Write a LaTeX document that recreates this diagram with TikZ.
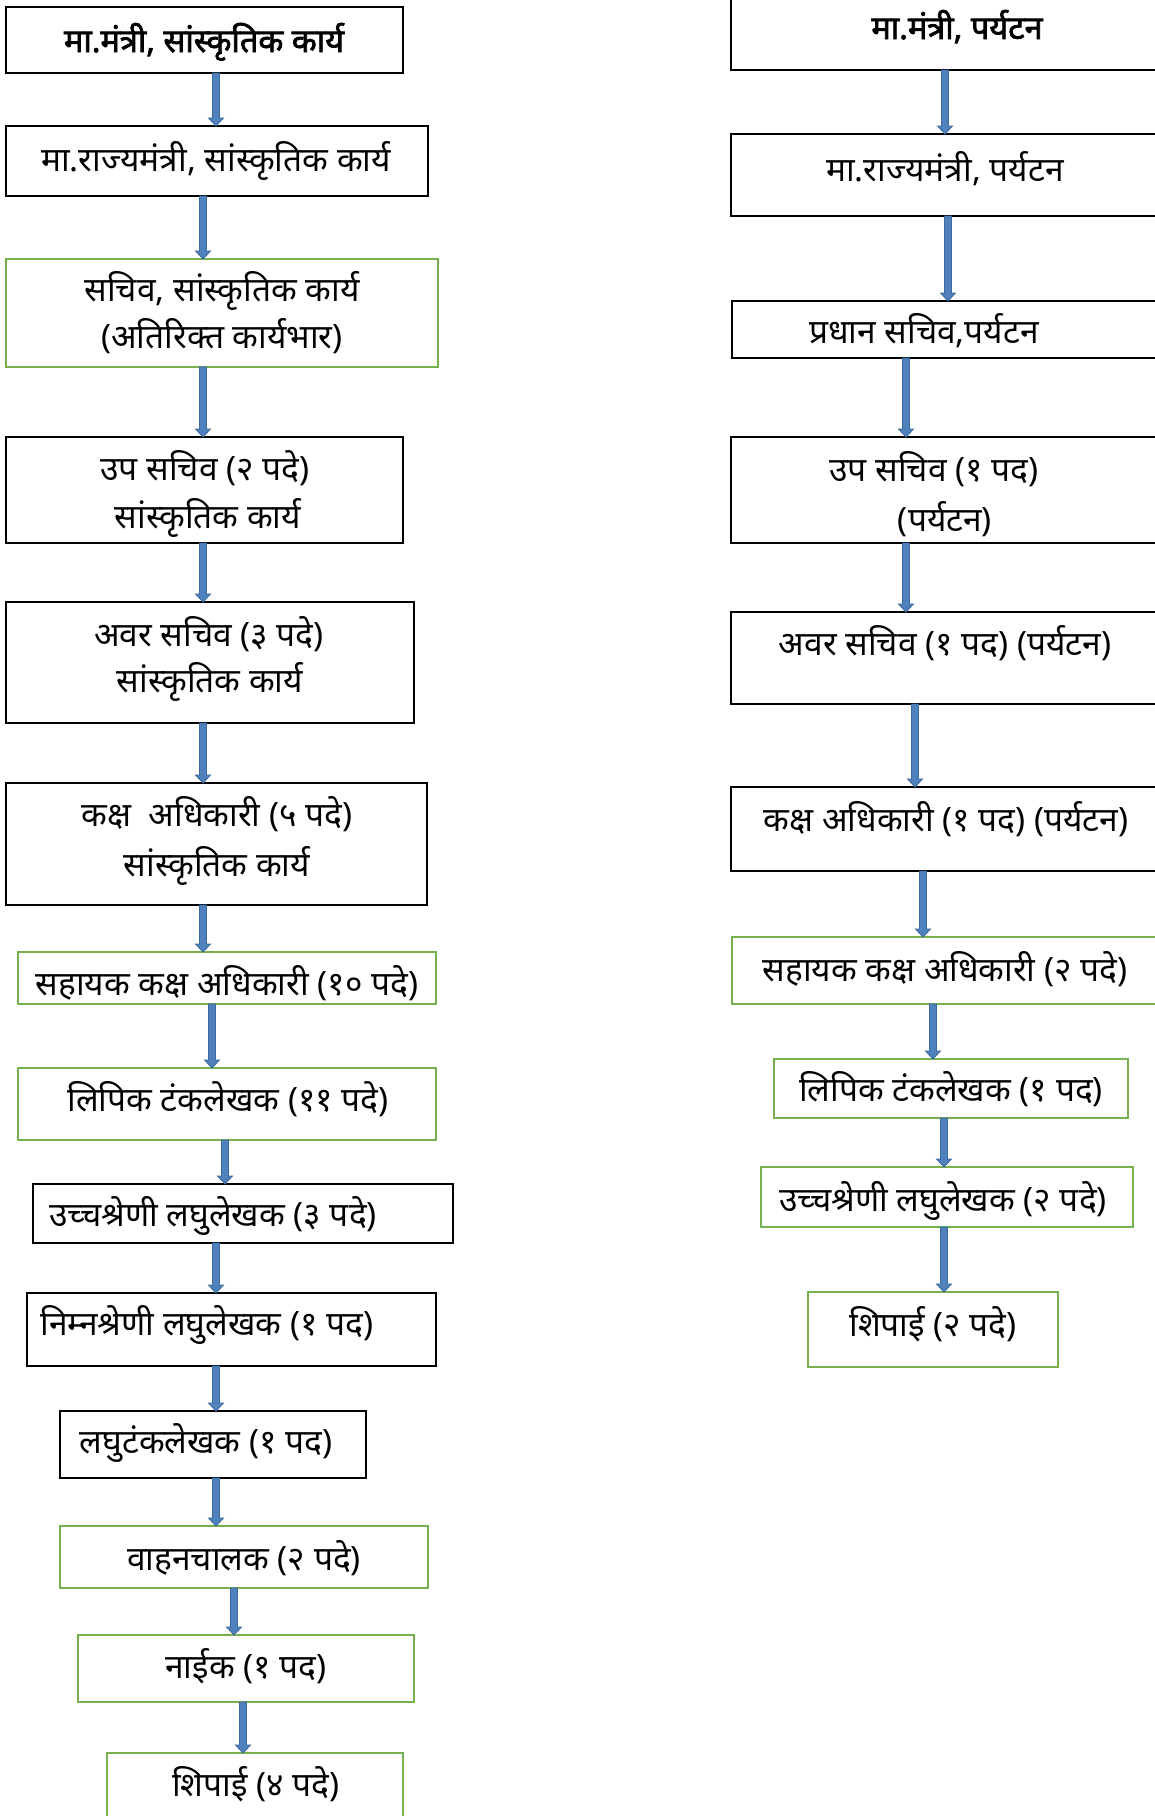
\documentclass[tikz,border=0pt]{standalone}
\usepackage{fontspec}
\newfontfamily\deva[Script=Devanagari]{Noto Sans}
\newfontfamily\devab[Script=Devanagari,FakeBold=2.2]{Noto Sans}
\usetikzlibrary{calc}
\definecolor{boxgreen}{HTML}{77B04F}
\definecolor{arrfill}{HTML}{4F81BD}
\definecolor{arrline}{HTML}{3C6A9C}
\newcommand\blockarr[2]{%
  \draw[arrsty] let \p1=(#1), \p2=(#2) in
    (\x1-3.5pt,\y1) -- (\x1+3.5pt,\y1) -- (\x1+3.5pt,\y2+8pt) -- (\x1+7.5pt,\y2+8pt)
    -- (\x1,\y2) -- (\x1-7.5pt,\y2+8pt) -- (\x1-3.5pt,\y2+8pt) -- cycle;}
\newcommand\boxat[6]{%
  \node[#1, minimum width={(#5-#3)*1pt}, minimum height={(#6-#4)*1pt}]
    (#2) at ({(#3+#5)/2},{(#4+#6)/2}) {};}
\begin{document}
\begin{tikzpicture}[x=1pt,y=-1pt,
  bbox/.style={draw=black, line width=2pt, inner sep=0pt, outer sep=0pt},
  gbox/.style={draw=boxgreen, line width=2.8pt, inner sep=0pt, outer sep=0pt},
  txt/.style={anchor=base, inner sep=0pt, yshift=-3pt, font=\deva\fontsize{33.5}{38}\selectfont},
  btxt/.style={anchor=base, inner sep=0pt, yshift=-2pt, font=\devab\fontsize{32.5}{38}\selectfont},
  arrsty/.style={fill=arrfill, draw=arrline, line width=0.8pt, line join=miter}]
\useasboundingbox (0,0) rectangle (1155,1816);
\clip (0,0) rectangle (1155,1816);
% left column boxes
\boxat{bbox}{L1}{6}{7}{403}{73}
\boxat{bbox}{L2}{6}{126}{428}{196}
\boxat{gbox}{L3}{6}{259}{438}{367}
\boxat{bbox}{L4}{6}{437}{403}{543}
\boxat{bbox}{L5}{6}{602}{414}{723}
\boxat{bbox}{L6}{6}{783}{427}{905}
\boxat{gbox}{L7}{18}{952}{436}{1004}
\boxat{gbox}{L8}{18}{1068}{436}{1140}
\boxat{bbox}{L9}{33}{1184}{453}{1243}
\boxat{bbox}{L10}{27}{1293}{436}{1366}
\boxat{bbox}{L11}{60}{1411}{366}{1478}
\boxat{gbox}{L12}{60}{1526}{428}{1588}
\boxat{gbox}{L13}{78}{1635}{414}{1702}
\boxat{gbox}{L14}{107}{1753}{403}{1830}
% right column boxes
\boxat{bbox}{R1}{731}{-10}{1165}{70}
\boxat{bbox}{R2}{731}{134}{1165}{216}
\boxat{bbox}{R3}{732}{301}{1165}{358}
\boxat{bbox}{R4}{731}{437}{1165}{543}
\boxat{bbox}{R5}{731}{612}{1165}{704}
\boxat{bbox}{R6}{731}{787}{1165}{871}
\boxat{gbox}{R7}{732}{937}{1165}{1004}
\boxat{gbox}{R8}{774}{1059}{1128}{1118}
\boxat{gbox}{R9}{761}{1167}{1133}{1227}
\boxat{gbox}{R10}{808}{1292}{1058}{1367}
% texts left
\node[btxt] (tL1) at (204,50) {मा.मंत्री, सांस्कृतिक कार्य};
\node[txt] (tL2) at (216,168) {मा.राज्यमंत्री, सांस्कृतिक कार्य};
\node[txt] (tL3a) at (222,298) {सचिव, सांस्कृतिक कार्य};
\node[txt] (tL3b) at (222,345) {(अतिरिक्त कार्यभार)};
\node[txt] (tL4a) at (205,477) {उप सचिव (२ पदे)};
\node[txt] (tL4b) at (208,525) {सांस्कृतिक कार्य};
\node[txt] (tL5a) at (209,643) {अवर सचिव (३ पदे)};
\node[txt] (tL5b) at (210,689) {सांस्कृतिक कार्य};
\node[txt] (tL6a) at (217,823) {कक्ष~~अधिकारी (५ पदे)};
\node[txt] (tL6b) at (217,873) {सांस्कृतिक कार्य};
\node[txt] (tL7) at (227,992) {सहायक कक्ष अधिकारी (१० पदे)};
\node[txt] (tL8) at (228,1108) {लिपिक टंकलेखक (११ पदे)};
\node[txt] (tL9) at (213,1223) {उच्चश्रेणी लघुलेखक (३ पदे)};
\node[txt] (tL10) at (207,1332) {निम्नश्रेणी लघुलेखक (१ पद)};
\node[txt] (tL11) at (206,1450) {लघुटंकलेखक (१ पद)};
\node[txt] (tL12) at (244,1567) {वाहनचालक (२ पदे)};
\node[txt] (tL13) at (246,1675) {नाईक (१ पद)};
\node[txt] (tL14) at (256,1793) {शिपाई (४ पदे)};
% texts right
\node[btxt] (tR1) at (957,37) {मा.मंत्री, पर्यटन};
\node[txt] (tR2) at (945,178) {मा.राज्यमंत्री, पर्यटन};
\node[txt] (tR3) at (924,340) {प्रधान सचिव,पर्यटन};
\node[txt] (tR4a) at (934,478) {उप सचिव (१ पद)};
\node[txt] (tR4b) at (945,528) {(पर्यटन)};
\node[txt] (tR5) at (945,652) {अवर सचिव (१ पद) (पर्यटन)};
\node[txt] (tR6) at (946,828) {कक्ष अधिकारी (१ पद) (पर्यटन)};
\node[txt] (tR7) at (945,978) {सहायक कक्ष अधिकारी (२ पदे)};
\node[txt] (tR8) at (951,1098) {लिपिक टंकलेखक (१ पद)};
\node[txt] (tR9) at (943,1208) {उच्चश्रेणी लघुलेखक (२ पदे)};
\node[txt] (tR10) at (933,1333) {शिपाई (२ पदे)};
% arrow columns
\coordinate (a1) at (216,0);
\coordinate (a2) at (203,0);
\coordinate (a7) at (212,0);
\coordinate (a8) at (225,0);
\coordinate (a9) at (216,0);
\coordinate (a12) at (234,0);
\coordinate (a13) at (243,0);
\coordinate (b1) at (945,0);
\coordinate (b2) at (948,0);
\coordinate (b3) at (906,0);
\coordinate (b5) at (915,0);
\coordinate (b6) at (923,0);
\coordinate (b7) at (933,0);
\coordinate (b8) at (944,0);
% arrows left
\blockarr{L1.south -| a1}{L2.north -| a1}
\blockarr{L2.south -| a2}{L3.north -| a2}
\blockarr{L3.south -| a2}{L4.north -| a2}
\blockarr{L4.south -| a2}{L5.north -| a2}
\blockarr{L5.south -| a2}{L6.north -| a2}
\blockarr{L6.south -| a2}{L7.north -| a2}
\blockarr{L7.south -| a7}{L8.north -| a7}
\blockarr{L8.south -| a8}{L9.north -| a8}
\blockarr{L9.south -| a9}{L10.north -| a9}
\blockarr{L10.south -| a9}{L11.north -| a9}
\blockarr{L11.south -| a9}{L12.north -| a9}
\blockarr{L12.south -| a12}{L13.north -| a12}
\blockarr{L13.south -| a13}{L14.north -| a13}
% arrows right
\blockarr{R1.south -| b1}{R2.north -| b1}
\blockarr{R2.south -| b2}{R3.north -| b2}
\blockarr{R3.south -| b3}{R4.north -| b3}
\blockarr{R4.south -| b3}{R5.north -| b3}
\blockarr{R5.south -| b5}{R6.north -| b5}
\blockarr{R6.south -| b6}{R7.north -| b6}
\blockarr{R7.south -| b7}{R8.north -| b7}
\blockarr{R8.south -| b8}{R9.north -| b8}
\blockarr{R9.south -| b8}{R10.north -| b8}
\end{tikzpicture}
\end{document}
